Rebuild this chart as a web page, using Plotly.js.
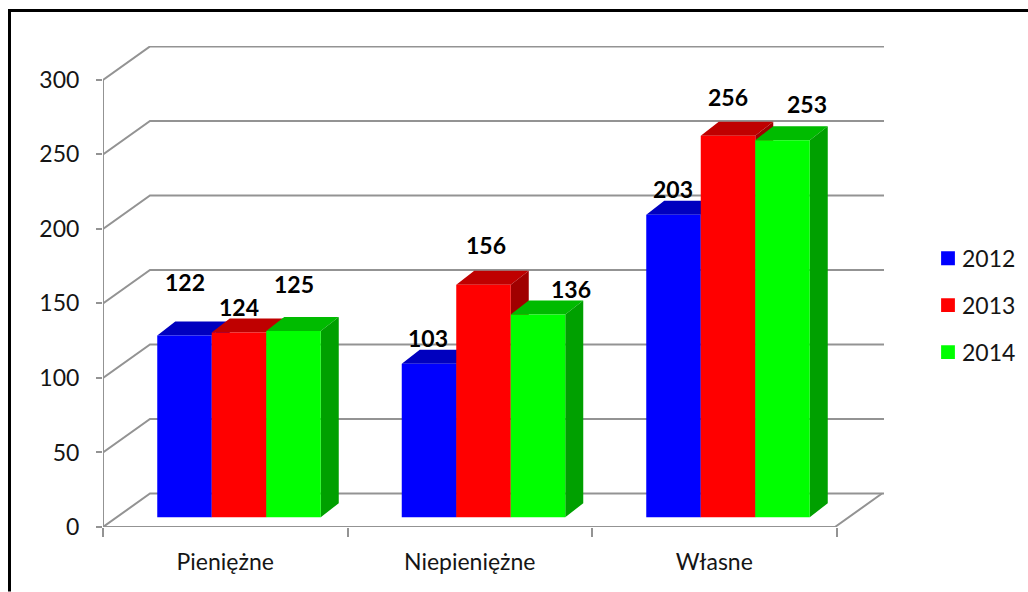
<!DOCTYPE html>
<html><head><meta charset="utf-8">
<script src="https://cdn.plot.ly/plotly-3.0.1.min.js"></script>
<style>html,body{margin:0;padding:0;background:#fff}</style></head>
<body><div id="chart" style="width:1028px;height:592px"></div>
<script>
// ---- data ----
const categories = ['Pieniężne', 'Niepieniężne', 'Własne'];
const years = ['2012', '2013', '2014'];
const values2012 = [122, 103, 203];
const values2013 = [124, 156, 256];
const values2014 = [125, 136, 253];
const yTicks = [0, 50, 100, 150, 200, 250, 300];

// ---- styles ----
const frontColors = ['#0000ff', '#ff0000', '#00ff00'];
const topColors = ['#0000bf', '#bf0000', '#00bb00'];
const sideColors = ['#0000a0', '#a00000', '#00a000'];
const gridColor = '#939393';
const font = 'Lato, sans-serif';
const textColor = '#151515';

// label offsets from the top centre of each bar, px [dx, dy], per series then category
const labelOffsetsBySeries = [
  [[0.5, 53], [-1, 26], [-1, 26]],
  [[0, 25.5], [2, 39.5], [0, 39]],
  [[0.5, 47], [32.5, 26], [24.5, 36]]
];

// ---- 3-D projection, in axis units ----
const pxX = 244.5, pxY = 1.492;            // pixels per category / per value unit
const wallDX = 47 / pxX, wallDY = 33.5 / pxY;
const barDX = 18 / pxX, barDY = 14 / pxY;
const barBase = 9.8 / pxY;
const barW = 54.5 / pxX, groupShift = 13.75 / pxX;
const xMin = 0.5, xEnd = xMin + 781 / pxX, xFront = xMin + 732 / pxX;
const yMax = 481.5 / pxY;
const series = [values2012, values2013, values2014];

const traces = [];
// wall and floor lines
const gx = [], gy = [];
yTicks.forEach(v => {
  gx.push(xMin, xMin + wallDX, xEnd, null);
  gy.push(v, v + wallDY, v + wallDY, null);
});
traces.push({x: gx, y: gy, mode: 'lines', line: {color: gridColor, width: 2}, showlegend: false, hoverinfo: 'skip'});
traces.push({x: [xMin, xMin, null, xMin, xFront, xFront + wallDX],
             y: [yTicks[yTicks.length - 1], 0, null, 0, 0, wallDY],
             mode: 'lines', line: {color: gridColor, width: 2}, showlegend: false, hoverinfo: 'skip'});

// top and side faces
series.forEach((vals, s) => {
  const tx = [], ty = [], sx = [], sy = [];
  vals.forEach((v, c) => {
    const cx = c + 1 + groupShift + (s - 1) * barW;
    const l = cx - barW / 2, r = cx + barW / 2, t = v + barBase;
    tx.push(l, r, r + barDX, l + barDX, l, null);
    ty.push(t, t, t + barDY, t + barDY, t, null);
    sx.push(r, r + barDX, r + barDX, r, r, null);
    sy.push(t, t + barDY, barBase + barDY, barBase, t, null);
  });
  [[tx, ty, topColors[s]], [sx, sy, sideColors[s]]].forEach(([x, y, col]) => {
    traces.push({x, y, mode: 'lines', fill: 'toself', fillcolor: col, line: {width: 0, color: col},
                 showlegend: false, hoverinfo: 'skip'});
  });
});

// front faces (on the overlay axes so they cover the faces above)
series.forEach((vals, s) => {
  traces.push({
    type: 'bar', xaxis: 'x2', yaxis: 'y2', name: years[s], legendgroup: years[s],
    x: vals.map((_, c) => c + 1 + groupShift + (s - 1) * barW),
    y: vals, base: vals.map(() => barBase), width: barW,
    marker: {color: frontColors[s], line: {width: 0}},
    hovertemplate: '%{customdata}: %{y}<extra>' + years[s] + '</extra>', customdata: categories
  });
});

// value labels
const annotations = [];
series.forEach((vals, s) => vals.forEach((v, c) => {
  const off = labelOffsetsBySeries[s][c];
  annotations.push({
    x: c + 1 + groupShift + (s - 1) * barW, y: v + barBase, xref: 'x', yref: 'y',
    text: String(v), showarrow: false, xanchor: 'center', yanchor: 'middle',
    xshift: off[0], yshift: off[1], font: {family: font, size: 23, color: '#000', weight: 700}
  });
}));

const W = 781, H = 481.5, L = 103, T = 46;
const px = x => (x - L) / W, py = y => 1 - (y - T) / H;
const frame = (x0, y0, x1, y1) => ({type: 'line', xref: 'paper', yref: 'paper',
  x0: px(x0), y0: py(y0), x1: px(x1), y1: py(y1), line: {color: '#000', width: 3}});

const layout = {
  width: 1028, height: 592,
  margin: {l: L, r: 1028 - L - W, t: T, b: 592 - T - H, pad: 0, autoexpand: false},
  paper_bgcolor: '#fff', plot_bgcolor: 'rgba(0,0,0,0)', barmode: 'overlay',
  font: {family: font, size: 23, color: textColor},
  xaxis: {type: 'linear', range: [xMin, xEnd], tickmode: 'array', tickvals: [1, 2, 3], ticktext: categories,
    ticks: '', showgrid: false, zeroline: false, showline: false, fixedrange: true, ticklabelstandoff: 19,
    minor: {tickmode: 'array', tickvals: [0.5, 1.5, 2.5, 3.5], ticks: 'outside', ticklen: 9, tickwidth: 2,
            tickcolor: gridColor, showgrid: false}},
  yaxis: {type: 'linear', range: [0, yMax], tickmode: 'array', tickvals: yTicks, ticks: 'outside', ticklen: 6, tickwidth: 2,
    tickcolor: gridColor, showgrid: false, zeroline: false, showline: false, fixedrange: true, ticklabelstandoff: 12},
  xaxis2: {overlaying: 'x', matches: 'x', visible: false, range: [xMin, xEnd], fixedrange: true},
  yaxis2: {overlaying: 'y', matches: 'y', visible: false, range: [0, yMax], fixedrange: true},
  legend: {x: px(922), y: py(237), xanchor: 'left', yanchor: 'top', tracegroupgap: 14, bgcolor: 'rgba(0,0,0,0)',
           font: {family: font, size: 23, color: textColor}, itemclick: false, itemdoubleclick: false},
  annotations,
  shapes: [frame(9.5, 592, 9.5, 10.5), frame(8, 10.5, 1028, 10.5)]
};
Plotly.newPlot('chart', traces, layout, {displayModeBar: false, responsive: false}).then(() => {
  // legend swatches sit closer to their text and are a little larger in the reference
  document.querySelectorAll('.legend .legendpoints path').forEach(p => {
    const t = p.getAttribute('transform') || '';
    p.setAttribute('transform', t + ' translate(6,0) scale(1.15)');
  });
});
</script></body></html>
